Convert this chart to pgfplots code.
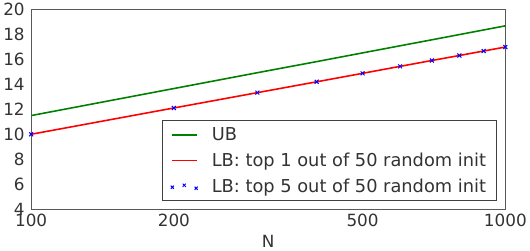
\documentclass[border=0pt]{standalone}
\usepackage{pgfplots}
\pgfplotsset{compat=1.18}
\usepackage{fontspec}
\setmainfont{DejaVu Sans}
\definecolor{mgreen}{RGB}{0,128,0}
\begin{document}
\begin{tikzpicture}
\begin{axis}[
  scale only axis,
  width=478bp, height=201bp,
  xmode=log, log basis x=10,
  xmin=100, xmax=1000, ymin=4, ymax=20,
  xtick={100,200,500,1000}, xticklabels={100,200,500,1000},
  ytick={4,6,...,20},
  minor xtick={},
  major tick length=0pt, minor tick length=0pt,
  /pgf/number format/assume math mode=true,
  tick label style={font=\fontsize{17}{20}\selectfont, text=black!80},
  xlabel={N}, xlabel style={font=\fontsize{17}{20}\selectfont, text=black!80, yshift=-1bp},
  xticklabel style={yshift=-2bp},
  yticklabel style={xshift=-3bp},
  axis line style={black!65, line width=1pt},
  legend style={at={(0.981,0.04)}, anchor=south east, draw=black!75, line width=0.8pt,
    font=\fontsize{18}{21}\selectfont, text=black!80, inner xsep=8bp, inner ysep=5bp,
    row sep=7bp, column sep=12bp, legend cell align=left},
]
\addplot[mgreen, line width=1.6pt,
  legend image code/.code={\draw[mgreen, line width=1.6pt] (0bp,0bp) -- (25bp,0bp);}] coordinates {
(100,11.5) (200,13.67) (300,14.94) (400,15.83) (500,16.53) (600,17.10) (700,17.58) (800,18.00) (900,18.37) (1000,18.7)};
\addlegendentry{UB}
\addplot[red, line width=1.6pt,
  legend image code/.code={\draw[red, line width=1.6pt] (0bp,0bp) -- (25bp,0bp);}] coordinates {
(100,10.0) (200,12.11) (300,13.34) (400,14.21) (500,14.89) (600,15.45) (700,15.92) (800,16.32) (900,16.68) (1000,17.0)};
\addlegendentry{LB: top 1 out of 50 random init}
\addplot[blue, only marks, mark=x, mark size=2.8pt, line width=1pt,
  legend image code/.code={\draw plot[blue, only marks, mark=x, mark size=2.2pt, line width=0.8pt] coordinates {(0bp,-1bp) (12bp,1bp) (24bp,-2bp)};}]
  coordinates {
(100,10.0) (200,12.11) (300,13.34) (400,14.21) (500,14.89) (600,15.45) (700,15.92) (800,16.32) (900,16.68) (1000,17.0)};
\addlegendentry{LB: top 5 out of 50 random init}
\end{axis}
\end{tikzpicture}
\end{document}
